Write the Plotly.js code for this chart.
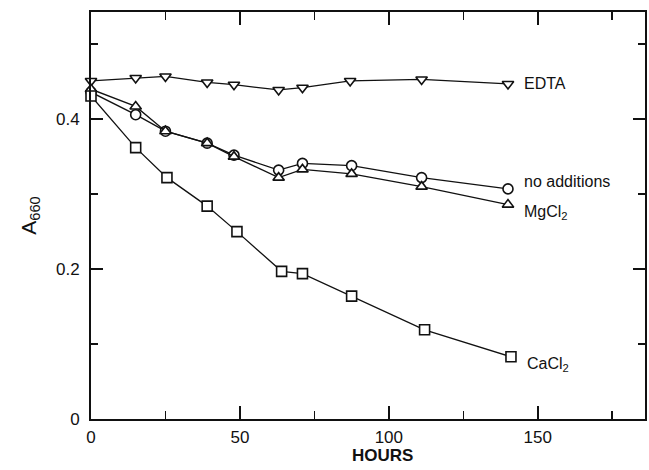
<!DOCTYPE html>
<html><head><meta charset="utf-8">
<script src="https://cdn.plot.ly/plotly-3.0.1.min.js"></script>
<style>html,body{margin:0;padding:0;background:#fff}</style>
</head><body><div id="chart" style="width:649px;height:470px"></div>
<script>
const hoursEDTA = [0, 15, 25, 39, 48, 63, 71, 87, 111, 140];
const edta      = [0.451, 0.455, 0.457, 0.449, 0.446, 0.439, 0.442, 0.451, 0.453, 0.447];
const hoursNone = [0, 15, 25, 39, 48, 63, 71, 87.5, 111, 140];
const noAdd     = [0.436, 0.406, 0.384, 0.368, 0.352, 0.332, 0.341, 0.338, 0.322, 0.307];
const hoursMg   = [0, 15, 25, 39, 48, 63, 71, 87.5, 111, 140];
const mgcl2     = [0.440, 0.417, 0.384, 0.368, 0.350, 0.322, 0.333, 0.327, 0.310, 0.286];
const hoursCa   = [0, 15, 25.5, 39, 49, 64, 71, 87.5, 112, 141];
const cacl2     = [0.431, 0.362, 0.322, 0.284, 0.250, 0.197, 0.194, 0.164, 0.119, 0.083];
const seriesNames = ['EDTA', 'no additions', 'MgCl<sub>2</sub>', 'CaCl<sub>2</sub>'];
const yTickVals = [0, 0.2, 0.4];
const yTickText = ['0', '0.2', '0.4'];
const xTickVals = [0, 50, 100, 150];
const xTickText = ['0', '50', '100', '150'];

const ink = '#111';
function tr(x, y, sym, name) {
  return {x: x, y: y, name: name, type: 'scatter', mode: 'lines+markers',
    line: {color: ink, width: 1.3},
    marker: {symbol: sym, size: 10, color: '#fff', line: {color: ink, width: 1.6}},
    cliponaxis: false};
}
const data = [
  tr(hoursEDTA, edta, 'triangle-down', seriesNames[0]),
  tr(hoursNone, noAdd, 'circle', seriesNames[1]),
  tr(hoursMg, mgcl2, 'triangle-up', seriesNames[2]),
  tr(hoursCa, cacl2, 'square', seriesNames[3])
];
const lblFont = {family: 'Liberation Sans, Arial, sans-serif', size: 16, color: ink};
function lab(x, y, text, ys) {
  return {x: x, y: y, xref: 'x', yref: 'y', text: text, showarrow: false,
    xanchor: 'left', yanchor: 'middle', xshift: 14, yshift: ys, font: lblFont};
}
const n = edta.length - 1;
const layout = {
  width: 649, height: 470,
  margin: {l: 91, r: 4, t: 12, b: 51},
  paper_bgcolor: '#fff', plot_bgcolor: '#fff',
  showlegend: false,
  font: {family: 'Liberation Sans, Arial, sans-serif', color: ink},
  xaxis: {
    range: [0, 186], showgrid: false, zeroline: false,
    showline: true, linecolor: ink, linewidth: 2, mirror: 'ticks',
    ticks: 'inside', ticklen: 13, tickwidth: 1.6, tickcolor: ink,
    tickvals: xTickVals, ticktext: xTickText,
    minor: {ticks: 'inside', ticklen: 8, tickwidth: 1.6, tickcolor: ink, dtick: 25, tick0: 0, showgrid: false},
    tickfont: {size: 17, color: ink},
    ticklabelstandoff: 2
  },
  yaxis: {
    range: [0, 0.543], showgrid: false, zeroline: false,
    showline: true, linecolor: ink, linewidth: 2, mirror: 'ticks',
    ticks: 'inside', ticklen: 12, tickwidth: 1.6, tickcolor: ink,
    tickvals: yTickVals, ticktext: yTickText,
    minor: {ticks: 'inside', ticklen: 7, tickwidth: 1.6, tickcolor: ink, dtick: 0.1, tick0: 0, showgrid: false},
    tickfont: {size: 17, color: ink},
    ticklabelstandoff: 6,
    title: {text: 'A<sub>660</sub>', font: {size: 21, color: ink}, standoff: 14}
  },
  annotations: [
    lab(hoursEDTA[n], edta[n], seriesNames[0], 0),
    lab(hoursNone[n], noAdd[n], seriesNames[1], 7),
    lab(hoursMg[n], mgcl2[n], seriesNames[2], -8),
    lab(hoursCa[n], cacl2[n], seriesNames[3], -8),
    {x: 98, y: 0, xref: 'x', yref: 'paper', text: '<b>HOURS</b>', showarrow: false,
     xanchor: 'center', yanchor: 'middle', yshift: -36,
     font: {family: 'Liberation Sans, Arial, sans-serif', size: 17, color: ink}}
  ]
};
Plotly.newPlot('chart', data, layout, {staticPlot: true, displayModeBar: false});
</script></body></html>
